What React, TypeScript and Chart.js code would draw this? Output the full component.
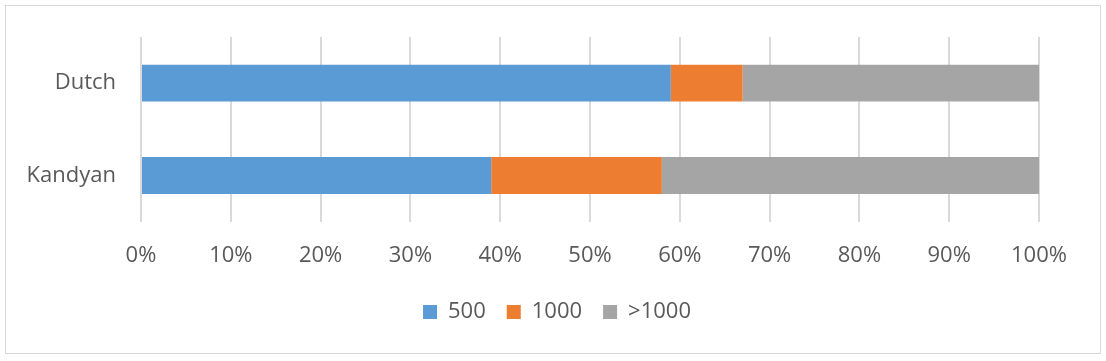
import React, { useEffect, useRef } from "react";
import { Chart, registerables } from "chart.js";

Chart.register(...registerables);

const categories = ["Dutch", "Kandyan"];
const seriesNames = ["500", "1000", ">1000"];
const values500 = [59, 39];
const values1000 = [8, 19];
const valuesOver1000 = [33, 42];
const seriesColors = ["#5B9BD5", "#ED7D31", "#A5A5A5"];
const xTicks = [0, 10, 20, 30, 40, 50, 60, 70, 80, 90, 100];

const legendShift = {
  id: "legendShift",
  afterLayout(chart: any) {
    const l = chart.legend;
    if (l) {
      l.left += 34.5;
      l.right += 34.5;
    }
  },
};

export default function App() {
  const ref = useRef<HTMLCanvasElement>(null);
  useEffect(() => {
    if (!ref.current) return;
    const font = { family: "'Open Sans', sans-serif", size: 22 };
    const chart = new Chart(ref.current, {
      type: "bar",
      data: {
        labels: categories,
        datasets: [values500, values1000, valuesOver1000].map((d, i) => ({
          label: seriesNames[i],
          data: d,
          backgroundColor: seriesColors[i],
          borderWidth: 0,
          categoryPercentage: 1,
          barPercentage: 0.4,
        })),
      },
      options: {
        indexAxis: "y",
        responsive: false,
        animation: false,
        layout: { padding: { top: 31, left: 0, right: 61, bottom: 20 } },
        plugins: {
          tooltip: { enabled: false },
          legend: {
            position: "bottom",
            labels: {
              font,
              color: "#595959",
              boxWidth: 14,
              boxHeight: 14,
              padding: 21,
            },
          },
        },
        scales: {
          x: {
            stacked: true,
            min: 0,
            max: 100,
            afterBuildTicks: (axis: any) => {
              axis.ticks = xTicks.map((v) => ({ value: v }));
            },
            afterFit: (axis: any) => {
              axis.height -= 9;
            },
            ticks: {
              font,
              color: "#595959",
              padding: 20.5,
              callback: (v: any) => v + "%",
            },
            grid: { color: "#D9D9D9", lineWidth: 2, drawTicks: false },
            border: { display: false },
          },
          y: {
            stacked: true,
            afterFit: (axis: any) => {
              axis.width = 135;
              axis.paddingTop = 0;
              axis.paddingBottom = 0;
            },
            ticks: { font, color: "#595959", padding: 25 },
            grid: { display: false, drawTicks: false },
            border: { display: false },
          },
        },
      },
      plugins: [legendShift],
    });
    return () => chart.destroy();
  }, []);
  return (
    <div
      style={{
        position: "absolute",
        left: 5,
        top: 5,
        width: 1096,
        height: 349,
        border: "1px solid #D9D9D9",
        boxSizing: "border-box",
        background: "#fff",
      }}
    >
      <canvas ref={ref} width={1094} height={347} style={{ display: "block" }} />
    </div>
  );
}
